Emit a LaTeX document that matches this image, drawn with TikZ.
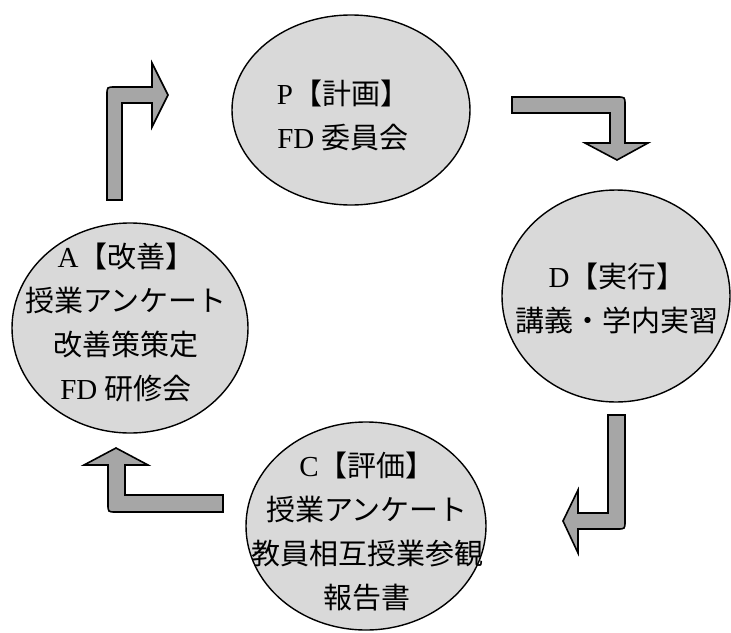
\documentclass[tikz,border=0pt]{standalone}
\usepackage{fontspec}
\setmainfont{Liberation Serif}
\newfontfamily\cjk{Noto Sans CJK JP}
\usetikzlibrary{shapes.geometric}
\definecolor{circfill}{HTML}{D9D9D9}
\definecolor{arrfill}{HTML}{A6A6A6}
\begin{document}
\begin{tikzpicture}[x=1pt,y=-1pt,
  phase/.style={draw=black, line width=1.4pt, fill=circfill, ellipse, inner sep=0pt},
  txt/.style={align=center, font=\fontsize{29}{44}\selectfont, inner sep=0pt},
  bentarrow/.style={draw=black, line width=1.6pt, fill=arrfill, line join=miter}]
\useasboundingbox (0,0) rectangle (731,632);
% phases
\node[phase, minimum width=238pt, minimum height=190pt] (P) at (351,110) {};
\node[phase, minimum width=228pt, minimum height=212pt] (D) at (616,296) {};
\node[phase, minimum width=240pt, minimum height=208pt] (C) at (366,526) {};
\node[phase, minimum width=236pt, minimum height=210pt] (A) at (130,328) {};
% texts
\node[txt] (Pt) at (343,115) {P{\cjk【計画】}\\FD {\cjk 委員会}};
\node[txt] (Dt) at (617,298) {D{\cjk【実行】}\\{\cjk 講義・学内実習}};
\node[txt] (Ct) at (367,532) {C{\cjk【評価】}\\{\cjk 授業アンケート}\\{\cjk 教員相互授業参観}\\{\cjk 報告書}};
\node[txt] (At) at (126,322) {A{\cjk【改善】}\\{\cjk 授業アンケート}\\{\cjk 改善策策定}\\FD {\cjk 研修会}};
% bent block arrows
\draw[bentarrow] (122,200) -- (122,103) -- (152,103) -- (152,127) -- (168,95) -- (152,63) -- (152,87) -- (115,87) .. controls (107,87) .. (107,95) -- (107,200) -- cycle;
\draw[bentarrow] (512,113) -- (610,113) -- (610,143) -- (585,143) -- (617,160) -- (648,143) -- (625,143) -- (625,105) .. controls (625,97) .. (617,97) -- (512,97) -- cycle;
\draw[bentarrow] (608,415) -- (625,415) -- (625,521) .. controls (625,529) .. (617,529) -- (578,529) -- (578,553) -- (563,521) -- (578,490) -- (578,513) -- (608,513) -- cycle;
\draw[bentarrow] (116,448) -- (148,465) -- (125,465) -- (125,495) -- (223,495) -- (223,512) -- (116,512) .. controls (108,512) .. (108,504) -- (108,465) -- (84,465) -- cycle;
\end{tikzpicture}
\end{document}
